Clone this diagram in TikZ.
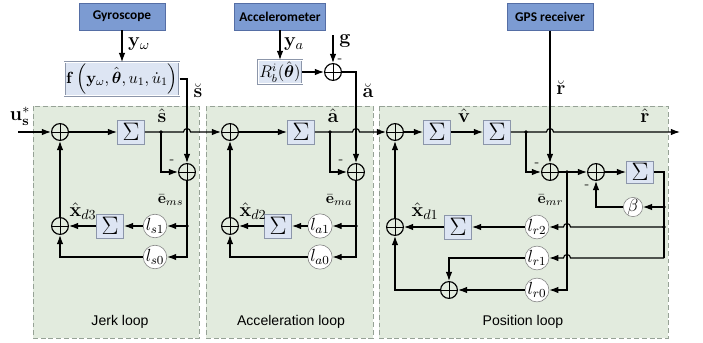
\RequirePackage{fix-cm}
\documentclass[tikz,border=0pt]{standalone}
\usepackage{amsmath}
\usepackage[no-math]{fontspec}
\newfontfamily\boxfont{Carlito}
\newfontfamily\loopfont{Liberation Sans}
\usetikzlibrary{arrows.meta,calc}
\definecolor{sensorfill}{RGB}{124,155,210}
\definecolor{sensorline}{RGB}{85,110,165}
\definecolor{loopfill}{RGB}{226,235,222}
\definecolor{loopline}{RGB}{150,162,150}
\definecolor{intfill}{RGB}{221,229,243}
\definecolor{intline}{RGB}{140,150,170}
\tikzset{
  sensor/.style={draw=sensorline,fill=sensorfill,minimum width=2.15cm,minimum height=0.68cm,line width=0.5pt,font=\boxfont\bfseries\fontsize{9.5}{10}\selectfont},
  loopbox/.style={draw=loopline,fill=loopfill,dash pattern=on 3.5pt off 2pt,line width=0.6pt},
  sumnode/.style={circle,draw,minimum size=0.42cm,inner sep=0pt,
    path picture={\draw[line width=0.6pt] (path picture bounding box.north) -- (path picture bounding box.south)
      (path picture bounding box.west) -- (path picture bounding box.east);}},
  intbox/.style={draw=intline,fill=intfill,line width=0.5pt,minimum width=0.68cm,minimum height=0.6cm,inner sep=0pt,font=\fontsize{18}{18}\selectfont},
  fbox/.style={draw=intline,fill=intfill,line width=0.4pt,double=white,double distance=0.6pt,inner sep=1pt},
  gainnode/.style={circle,draw=gray,fill=white,line width=0.4pt,minimum size=0.48cm,inner sep=0pt,font=\fontsize{12.5}{12.5}\selectfont},
  dotnode/.style={circle,fill,inner sep=0pt,minimum size=2.6pt},
  lbl/.style={inner sep=0pt,font=\fontsize{14}{14}\selectfont},
  elbl/.style={inner sep=0pt,anchor=east,font=\fontsize{11}{11}\selectfont},
  loopname/.style={font=\loopfont\fontsize{10}{12}\selectfont}
}
\begin{document}
\begin{tikzpicture}[x=0.025cm,y=-0.025cm,line width=0.8pt,>={Latex[length=6.5pt,width=4.6pt]}]
\useasboundingbox (0,0) rectangle (703,342);
%loop regions
\draw[loopbox] (33,106) rectangle (199,338);
\draw[loopbox] (206,106) rectangle (373,338);
\draw[loopbox] (379,106) rectangle (668,338);
\node[loopname] (jl) at (120,322) {Jerk loop};
\node[loopname] (al) at (291,322) {Acceleration loop};
\node[loopname] (pl) at (523,322) {Position loop};
%sensors
\node[sensor] (gyro) at (122,16.5) {Gyroscope};
\node[sensor] (acc) at (280,16.5) {Accelerometer};
\node[sensor] (gps) at (550,17) {GPS receiver};
\node[fbox,minimum width=2.25cm,minimum height=0.56cm,font=\fontsize{11.5}{11.5}\selectfont] (fb) at (122,79) {$\mathbf{f}\left(\mathbf{y}_{\omega},\hat{\boldsymbol{\theta}},u_{1},\dot{u}_{1}\right)$};
\node[fbox,minimum width=1.1cm,minimum height=0.48cm,font=\fontsize{12}{12}\selectfont] (rb) at (280,72) {$R_{b}^{i}(\hat{\boldsymbol{\theta}})$};
\node[sumnode] (sg) at (333,72) {};
\coordinate (gin) at (333,35);
%jerk loop
\coordinate (uin) at (18,132);
\node[sumnode] (sj) at (60,132) {};
\node[intbox] (ij) at (131,132) {$\Sigma$};
\node[dotnode] (dj) at (161,132) {};
\node[sumnode] (ej) at (187,172) {};
\node[dotnode] (dej) at (187,226) {};
\node[gainnode] (ls1) at (155,226) {$l_{s1}$};
\node[intbox] (ijd) at (110,226) {$\Sigma$};
\node[sumnode] (sjd) at (60,226) {};
\node[gainnode] (ls0) at (155,257) {$l_{s0}$};
%acceleration loop
\node[sumnode] (sa) at (230,132) {};
\node[intbox] (ia) at (301,132) {$\Sigma$};
\node[dotnode] (da) at (330,132) {};
\node[sumnode] (ea) at (356,172) {};
\node[dotnode] (dea) at (356,226) {};
\node[gainnode] (la1) at (320,226) {$l_{a1}$};
\node[intbox] (iad) at (278,226) {$\Sigma$};
\node[sumnode] (sad) at (230,226) {};
\node[gainnode] (la0) at (320,257) {$l_{a0}$};
%position loop
\node[sumnode] (sp) at (395,132) {};
\node[intbox] (iv) at (437,132) {$\Sigma$};
\node[intbox] (ir) at (497,132) {$\Sigma$};
\node[dotnode] (dr) at (526,132) {};
\coordinate (rout) at (680,132);
\node[sumnode] (er) at (550,172) {};
\node[dotnode] (der) at (567,172) {};
\node[sumnode] (sb) at (596,172) {};
\node[intbox,minimum height=0.55cm] (ib) at (640,172) {$\Sigma$};
\node[dotnode] (db) at (664,207) {};
\node[gainnode] (beta) at (633,207) {$\beta$};
\node[dotnode] (dl) at (664,227) {};
\node[gainnode] (lr2) at (537,227) {$l_{r2}$};
\node[intbox] (ipd) at (458,227) {$\Sigma$};
\node[sumnode] (spd) at (395,227) {};
\coordinate (rc) at (664,258);
\node[gainnode] (lr1) at (537,258) {$l_{r1}$};
\node[sumnode] (sr0) at (449,290) {};
\node[gainnode] (lr0) at (537,290) {$l_{r0}$};
%crossings
\coordinate (hj) at (ej |- dj);
\coordinate (ha) at (ea |- da);
\coordinate (hr) at (er |- dr);
\coordinate (h2) at (der |- dl);
\coordinate (h1) at (der |- rc);
%sensor paths
\draw[->] (gyro) -- (fb);
\draw[->] (acc) -- (rb);
\draw[->] (rb) -- (sg);
\draw[->] (gin) -- (sg);
\draw[->] (fb) -| (ej);
\draw[->] (sg) -| (ea);
\draw[->] (gps) -- (er);
%jerk loop
\draw[->] (uin) -- (sj);
\draw[->] (sj) -- (ij);
\draw[->] (ij) -- (dj.center) -- ([xshift=-2.5pt]hj) arc[start angle=180,end angle=0,radius=2.5pt] -- (sa);
\draw[->] (dj.center) |- (ej);
\draw[->] (ej) |- (ls0);
\draw[->] (dej.center) -- (ls1);
\draw[->] (ls1) -- (ijd);
\draw[->] (ijd) -- (sjd);
\draw[->] (ls0) -| (sjd);
\draw[->] (sjd) -- (sj);
%acceleration loop
\draw[->] (sa) -- (ia);
\draw[->] (ia) -- (da.center) -- ([xshift=-2.5pt]ha) arc[start angle=180,end angle=0,radius=2.5pt] -- (sp);
\draw[->] (da.center) |- (ea);
\draw[->] (ea) |- (la0);
\draw[->] (dea.center) -- (la1);
\draw[->] (la1) -- (iad);
\draw[->] (iad) -- (sad);
\draw[->] (la0) -| (sad);
\draw[->] (sad) -- (sa);
%position loop
\draw[->] (sp) -- (iv);
\draw[->] (iv) -- (ir);
\draw[->] (ir) -- (dr.center) -- ([xshift=-2.5pt]hr) arc[start angle=180,end angle=0,radius=2.5pt] -- (rout);
\draw[->] (dr.center) |- (er);
\draw[->] (er) -- (sb);
\draw[->] (sb) -- (ib);
\draw (ib) -| (rc);
\draw[->] (db.center) -- (beta);
\draw[->] (beta) -| (sb);
\draw[->] (dl.center) -- ([xshift=2.5pt]h2) arc[start angle=0,end angle=180,radius=2.5pt] -- (lr2);
\draw[->] (rc) -- ([xshift=2.5pt]h1) arc[start angle=0,end angle=180,radius=2.5pt] -- (lr1);
\draw[->] (der.center) |- (lr0);
\draw[->] (lr2) -- (ipd);
\draw[->] (ipd) -- (spd);
\draw[->] (lr1) -| (sr0);
\draw[->] (lr0) -- (sr0);
\draw[->] (sr0) -| (spd);
\draw[->] (spd) -- (sp);
%signal labels
\node[lbl] (tus) at (20,116) {$\mathbf{u}_{\mathbf{s}}^{*}$};
\node[lbl] (tyw) at (139,44) {$\mathbf{y}_{\omega}$};
\node[lbl] (tya) at (294,44) {$\mathbf{y}_{a}$};
\node[lbl] (tg) at (345,41) {$\mathbf{g}$};
\node[lbl] (tsb) at (198,91) {$\breve{\mathbf{s}}$};
\node[lbl] (tab) at (368,91) {$\breve{\mathbf{a}}$};
\node[lbl] (trb) at (561,88) {$\breve{\mathbf{r}}$};
\node[lbl] (tsh) at (162,116) {$\hat{\mathbf{s}}$};
\node[lbl] (tah) at (333,116) {$\hat{\mathbf{a}}$};
\node[lbl] (tvh) at (464,116) {$\hat{\mathbf{v}}$};
\node[lbl] (trh) at (645,116) {$\hat{\mathbf{r}}$};
\node[elbl] (tes) at (184,200) {$\bar{\mathbf{e}}_{ms}$};
\node[elbl] (tea) at (353,200) {$\bar{\mathbf{e}}_{ma}$};
\node[elbl] (ter) at (564,200) {$\bar{\mathbf{e}}_{mr}$};
\node[lbl] (tx3) at (83,211) {$\hat{\mathbf{x}}_{d3}$};
\node[lbl] (tx2) at (253,211) {$\hat{\mathbf{x}}_{d2}$};
\node[lbl] (tx1) at (425,211) {$\hat{\mathbf{x}}_{d1}$};
%minus signs
\node[inner sep=0pt] (mg) at (340,61) {-};
\node[inner sep=0pt] (mj) at (172,162) {-};
\node[inner sep=0pt] (ma) at (341,162) {-};
\node[inner sep=0pt] (mr) at (537,165) {-};
\node[inner sep=0pt] (mb) at (587,187) {-};
\end{tikzpicture}
\end{document}
